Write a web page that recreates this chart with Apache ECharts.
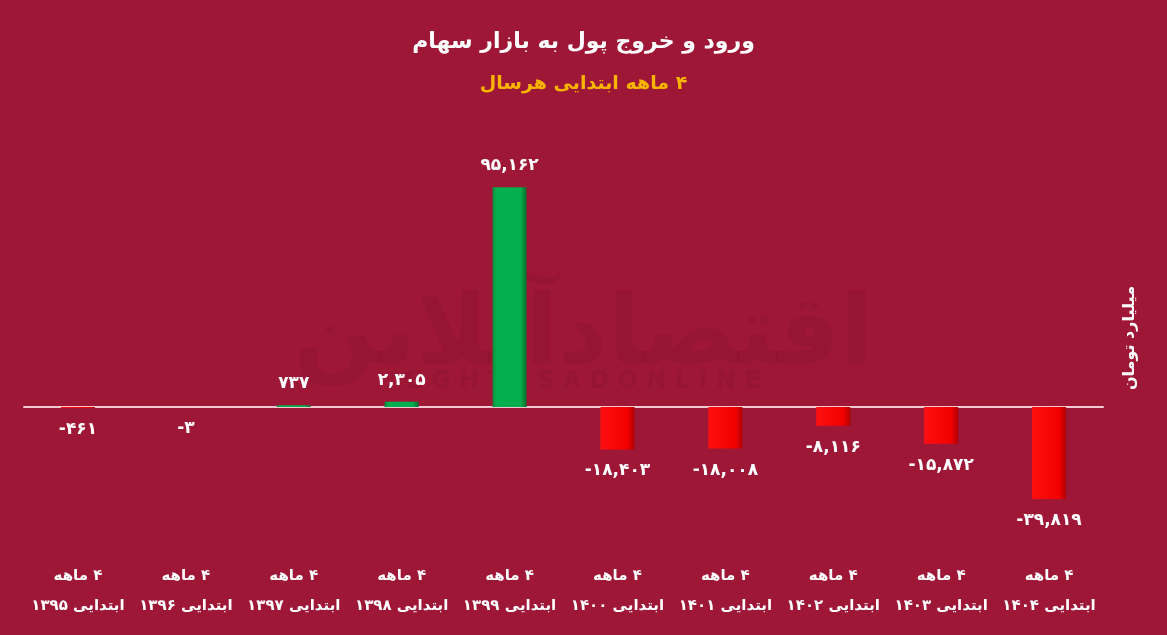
<!DOCTYPE html>
<html><head><meta charset="utf-8">
<script src="https://cdn.jsdelivr.net/npm/echarts@6/dist/echarts.min.js"></script>
<style>html,body{margin:0;padding:0;background:#9E1737;}#c{width:1167px;height:635px;}</style>
</head><body><div id="c"></div>
<script>
const years = ['۱۳۹۵','۱۳۹۶','۱۳۹۷','۱۳۹۸','۱۳۹۹','۱۴۰۰','۱۴۰۱','۱۴۰۲','۱۴۰۳','۱۴۰۴'];
const labelLine1 = '۴ ماهه';
const labelLine2 = 'ابتدایی ';
const values = [-461, -3, 737, 2305, 95162, -18403, -18008, -8116, -15872, -39819];
const titleText = 'ورود و خروج پول به بازار سهام';
const subtitleText = '۴ ماهه ابتدایی هرسال';
const unitText = 'میلیارد تومان';

const RLM = '\u200F';
const rtl = s => RLM + s + RLM;
const categories = years.map(y => rtl(labelLine1) + '\n' + rtl(labelLine2 + y));

const fa = '۰۱۲۳۴۵۶۷۸۹';
function toFa(v){
  const s = Math.abs(v).toString().replace(/\B(?=(\d{3})+(?!\d))/g, ',');
  return (v < 0 ? '-' : '') + s.replace(/\d/g, d => fa[+d]);
}
const FONT = '"DejaVu Sans", sans-serif';
const green = {type:'linear',x:0,y:0,x2:1,y2:0,colorStops:[{offset:0,color:'#0A8A38'},{offset:0.12,color:'#05B04E'},{offset:0.82,color:'#03AE4C'},{offset:1,color:'#0A6E2E'}]};
const red = {type:'linear',x:0,y:0,x2:1,y2:0,colorStops:[{offset:0,color:'#FF1010'},{offset:0.8,color:'#F20000'},{offset:1,color:'#B00000'}]};

const chart = echarts.init(document.getElementById('c'));
chart.setOption({
  backgroundColor: '#9E1737',
  animation: false,
  title: [
    {text: rtl(titleText), left: 'center', top: 26, textStyle:{color:'#FFFFFF', fontSize:22, fontWeight:'bold', fontFamily:FONT}},
    {text: rtl(subtitleText), left: 'center', top: 70, textStyle:{color:'#F7B500', fontSize:19, fontWeight:'bold', fontFamily:FONT}}
  ],
  graphic: [
    {type:'text', left:'center', top:290, z:0, style:{text:'اقتصادآنلاین', fill:'rgba(60,0,15,0.08)', font:'bold 96px "DejaVu Sans"'}},
    {type:'text', left:'center', top:370, z:0, style:{text:'E G H T E S A D O N L I N E', fill:'rgba(60,0,15,0.08)', font:'bold 24px "DejaVu Sans"'}},
    {type:'text', x:1130, y:338, rotation:Math.PI/2, z:10, style:{text:unitText, fill:'#FFFFFF', font:'bold 16px "DejaVu Sans"', align:'center', verticalAlign:'middle'}}
  ],
  grid: {left:24, right:64, top:176, bottom:135.6},
  xAxis: [
    {type:'category', data:categories, position:'bottom', axisLine:{show:false, onZero:false}, axisTick:{show:false},
     axisLabel:{color:'#FFFFFF', fontSize:15, fontWeight:'bold', fontFamily:FONT, lineHeight:30, margin:62, interval:0}},
    {type:'category', data:categories, axisLine:{show:true, onZero:true, lineStyle:{color:'#F2C9D2', width:2}}, axisTick:{show:false}, axisLabel:{show:false}}
  ],
  yAxis: {type:'value', min:-40000, max:100000, show:false, splitLine:{show:false}},
  series: [{
    type:'bar', xAxisIndex:0, barWidth:34,
    data: values.map(v => ({value:v, itemStyle:{color: v >= 0 ? green : red}, label:{position: v >= 0 ? 'top' : 'bottom'}})),
    label:{show:true, color:'#FFFFFF', fontSize:17, fontWeight:'bold', fontFamily:FONT, distance:13,
      formatter: p => toFa(p.value)}
  }]
});
</script></body></html>
